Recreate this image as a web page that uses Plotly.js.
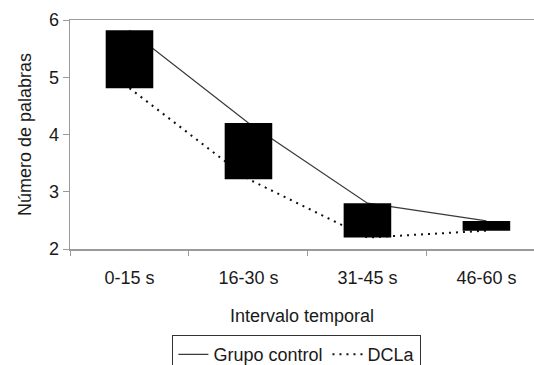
<!DOCTYPE html>
<html>
<head>
<meta charset="utf-8">
<script src="https://cdn.plot.ly/plotly-3.0.1.min.js"></script>
<style>
html,body{margin:0;padding:0;background:#fff;overflow:hidden;}
#chart{width:534px;height:365px;}
</style>
</head>
<body>
<div id="chart"></div>
<script>
const categories = ['0-15 s', '16-30 s', '31-45 s', '46-60 s'];
const grupoControl = [5.82, 4.20, 2.80, 2.49];
const dcla = [4.81, 3.22, 2.20, 2.32];
const yTicks = [2, 3, 4, 5, 6];

const FONT = 'Liberation Sans, Arial, sans-serif';
const TXT = '#1a1a1a';
const AX = '#9a9a9a';

const traces = [
  {
    type: 'scatter', mode: 'lines', name: 'Grupo control',
    x: categories, y: grupoControl,
    line: {color: '#3a3a3a', width: 1.2},
    hoverinfo: 'skip'
  },
  {
    type: 'scatter', mode: 'lines', name: 'DCLa',
    x: categories, y: dcla,
    line: {color: '#111', width: 2, dash: '2px,5px'},
    hoverinfo: 'skip'
  },
  {
    type: 'bar', name: 'diferencia', showlegend: false,
    x: categories,
    base: dcla,
    y: grupoControl.map((v, i) => v - dcla[i]),
    width: 0.4,
    yaxis: 'y2',
    marker: {color: '#000', line: {width: 0}},
    hoverinfo: 'skip'
  }
];

const layout = {
  width: 534, height: 365,
  margin: {l: 70, r: 0, t: 20, b: 116, autoexpand: false},
  paper_bgcolor: '#fff', plot_bgcolor: '#fff',
  font: {family: FONT, size: 18, color: TXT},
  showlegend: true,
  xaxis: {
    type: 'category',
    range: [-0.5, 3.4],
    tickson: 'boundaries',
    ticks: 'outside', ticklen: 5, tickwidth: 1, tickcolor: AX,
    showline: true, linecolor: AX, linewidth: 1.5, mirror: true,
    showgrid: false, zeroline: false,
    ticklabelstandoff: 12,
    tickfont: {family: FONT, size: 18, color: TXT},
    title: {text: 'Intervalo temporal', font: {family: FONT, size: 18, color: TXT}, standoff: 22}
  },
  yaxis: {
    range: [2, 6],
    tickvals: yTicks,
    ticks: 'outside', ticklen: 6, tickwidth: 1, tickcolor: AX,
    showline: true, linecolor: AX, linewidth: 1.5,
    showgrid: false, zeroline: false,
    ticklabelstandoff: 0,
    tickfont: {family: FONT, size: 18, color: TXT},
    title: {text: 'Número de palabras', font: {family: FONT, size: 18, color: TXT}, standoff: 12}
  },
  yaxis2: {
    range: [2, 6],
    overlaying: 'y',
    visible: false,
    showgrid: false, zeroline: false
  },
  legend: {
    orientation: 'h',
    x: 0.489, xanchor: 'center',
    y: -0.376, yanchor: 'top',
    bordercolor: '#333', borderwidth: 1,
    bgcolor: '#fff',
    font: {family: FONT, size: 18, color: TXT},
    itemwidth: 30
  }
};

Plotly.newPlot('chart', traces, layout, {displayModeBar: false, staticPlot: true});
</script>
</body>
</html>
